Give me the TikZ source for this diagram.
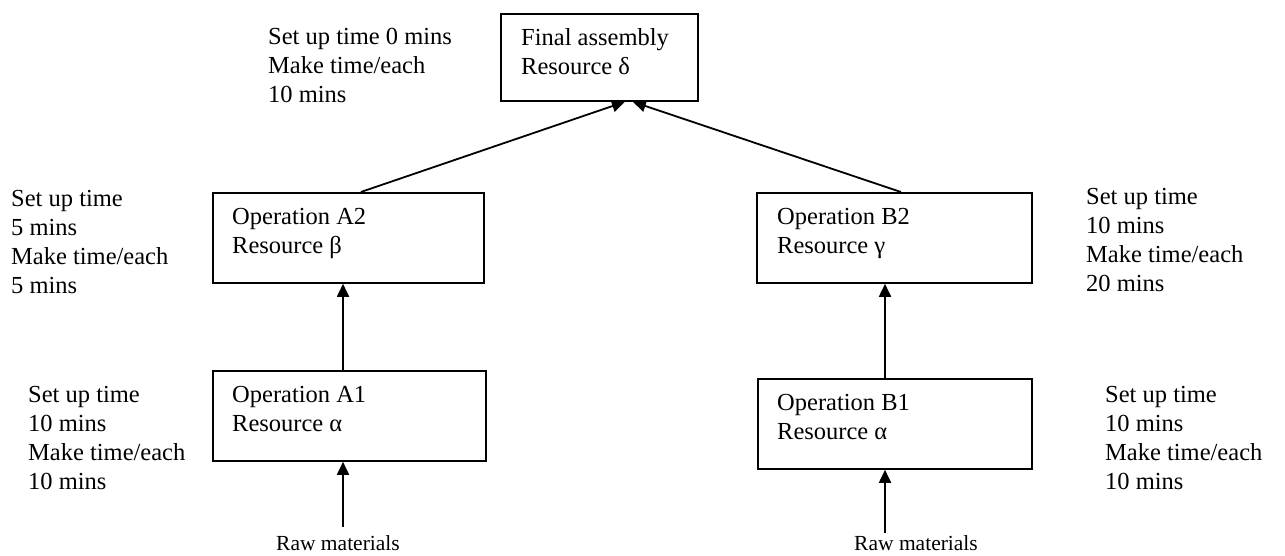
\documentclass[tikz,border=0pt]{standalone}
\usepackage{fontspec}
\setmainfont{Liberation Serif}
\usetikzlibrary{arrows.meta}
\begin{document}
\begin{tikzpicture}[x=1pt,y=-1pt,
  opbox/.style={draw, line width=1.8pt, rectangle, inner sep=0pt, anchor=north west},
  txt/.style={anchor=north west, inner sep=0pt, align=left, font=\fontsize{24.5}{29}\selectfont},
  rawtxt/.style={anchor=base, inner sep=0pt, font=\fontsize{21.5}{25}\selectfont},
  flow/.style={line width=1.8pt, -{Triangle[length=13pt,width=12pt]}}]
\useasboundingbox (0,0) rectangle (1285,556);
% boxes
\node[opbox, minimum width=197pt, minimum height=87pt] (fin) at (500,13) {};
\node[opbox, minimum width=271pt, minimum height=90pt] (a2) at (212,192) {};
\node[opbox, minimum width=275pt, minimum height=90pt] (b2) at (756,192) {};
\node[opbox, minimum width=273pt, minimum height=90pt] (a1) at (212,370) {};
\node[opbox, minimum width=274pt, minimum height=90pt] (b1) at (757,378) {};
% box texts
\node[txt] (fint) at (521,28) {Final assembly\\Resource δ};
\node[txt] (a2t) at (232,208) {Operation A2\\Resource β};
\node[txt] (b2t) at (777,208) {Operation B2\\Resource γ};
\node[txt] (a1t) at (232,386) {Operation A1\\Resource α};
\node[txt] (b1t) at (777,394) {Operation B1\\Resource α};
% side texts
\node[txt] (finn) at (268,28) {Set up time 0 mins\\Make time/each\\10 mins};
\node[txt] (a2n) at (11,190) {Set up time\\5 mins\\Make time/each\\5 mins};
\node[txt] (b2n) at (1086,188) {Set up time\\10 mins\\Make time/each\\20 mins};
\node[txt] (a1n) at (28,386) {Set up time\\10 mins\\Make time/each\\10 mins};
\node[txt] (b1n) at (1105,386) {Set up time\\10 mins\\Make time/each\\10 mins};
% raw materials
\coordinate (rawA) at (343,527);
\coordinate (rawB) at (885,533);
\node[rawtxt] (rawAt) at (338,550) {Raw materials};
\node[rawtxt] (rawBt) at (916,550) {Raw materials};
% connectors
\draw[flow] (rawA) -- (rawA |- a1.south);
\draw[flow] (rawA |- a1.north) -- (rawA |- a2.south);
\draw[flow] (rawB) -- (rawB |- b1.south);
\draw[flow] (rawB |- b1.north) -- (rawB |- b2.south);
\draw[flow] ([xshift=12.5pt]a2.north) -- ([xshift=25.5pt]fin.south);
\draw[flow] ([xshift=6.5pt]b2.north) -- ([xshift=33.5pt]fin.south);
\end{tikzpicture}
\end{document}
